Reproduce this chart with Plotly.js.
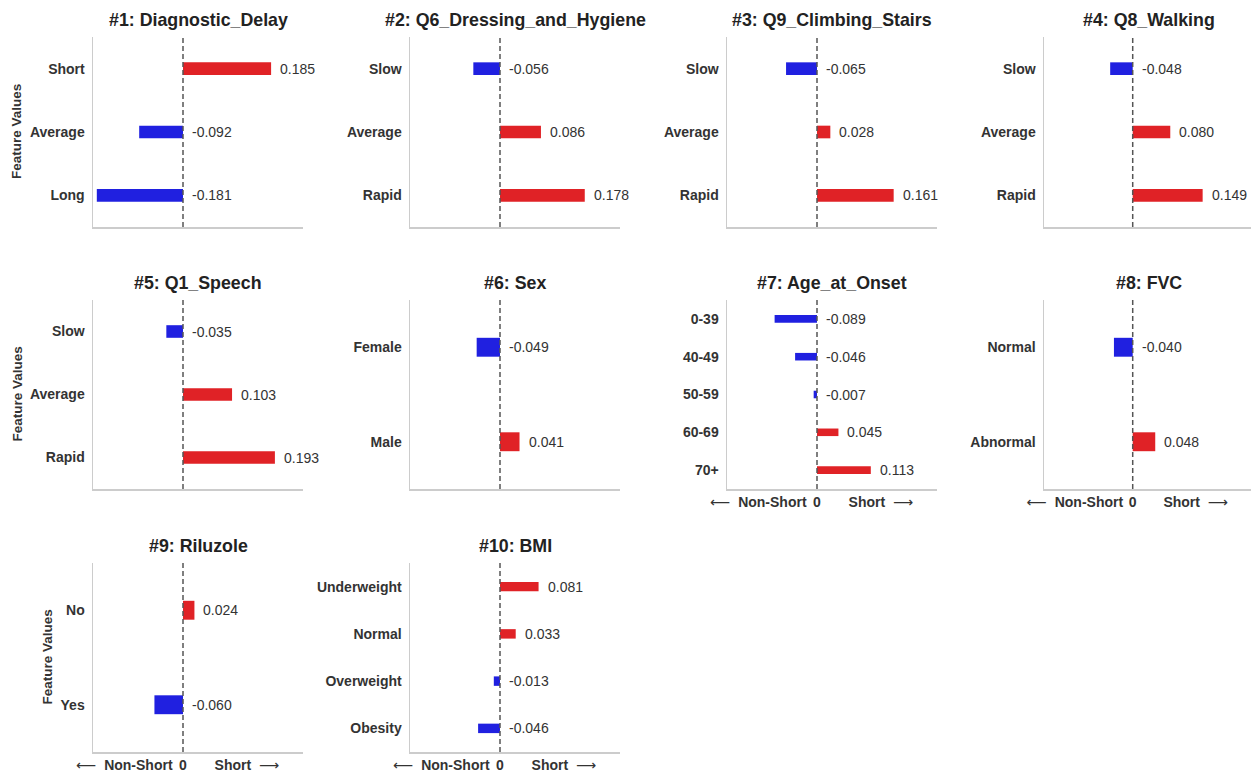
<!DOCTYPE html>
<html>
<head>
<meta charset="utf-8">
<script src="https://cdn.plot.ly/plotly-3.0.1.min.js"></script>
<style>html,body{margin:0;padding:0;background:#fff;}#chart{width:1252px;height:772px;}</style>
</head>
<body>
<div id="chart"></div>
<script>
// ---- data ----
const titles = [
  "#1: Diagnostic_Delay", "#2: Q6_Dressing_and_Hygiene", "#3: Q9_Climbing_Stairs", "#4: Q8_Walking",
  "#5: Q1_Speech", "#6: Sex", "#7: Age_at_Onset", "#8: FVC", "#9: Riluzole", "#10: BMI"
];
const cats1 = ["Short", "Average", "Long"];           const vals1 = [0.185, -0.092, -0.181];
const cats2 = ["Slow", "Average", "Rapid"];           const vals2 = [-0.056, 0.086, 0.178];
const cats3 = ["Slow", "Average", "Rapid"];           const vals3 = [-0.065, 0.028, 0.161];
const cats4 = ["Slow", "Average", "Rapid"];           const vals4 = [-0.048, 0.080, 0.149];
const cats5 = ["Slow", "Average", "Rapid"];           const vals5 = [-0.035, 0.103, 0.193];
const cats6 = ["Female", "Male"];                     const vals6 = [-0.049, 0.041];
const cats7 = ["0-39", "40-49", "50-59", "60-69", "70+"]; const vals7 = [-0.089, -0.046, -0.007, 0.045, 0.113];
const cats8 = ["Normal", "Abnormal"];                 const vals8 = [-0.040, 0.048];
const cats9 = ["No", "Yes"];                          const vals9 = [0.024, -0.060];
const cats10 = ["Underweight", "Normal", "Overweight", "Obesity"]; const vals10 = [0.081, 0.033, -0.013, -0.046];
const xTickText = ["\u27F5 Non-Short", "0", "Short \u27F6"];
const yLabel = "Feature Values";

const allCats = [cats1, cats2, cats3, cats4, cats5, cats6, cats7, cats8, cats9, cats10];
const allVals = [vals1, vals2, vals3, vals4, vals5, vals6, vals7, vals8, vals9, vals10];

// ---- layout geometry (pixels) ----
const W = 1252, H = 772;
const colLeft = [93, 410, 727, 1044];
const panelW = 210;
const rowTop = [37, 300, 563];
const rowBot = [227, 489, 752];
const xRange = [-0.189, 0.252];
const xTickVals = [-0.123, 0, 0.134];
const showXTicks = [false, false, false, false, false, false, true, true, true, true];
const showYLabel = {0: 17, 4: 17, 8: 47};

const RED = "#e02226", BLUE = "#2020e0";
const FONT = "Liberation Sans, Arial, sans-serif";
const ARROW = '<span style="font-family:DejaVu Sans;font-weight:normal;">';

// styled tick text (arrows thin, like the reference)
const styledTicks = xTickText.map(t => t
  .replace("\u27F5 ", ARROW + "\u27F5</span>  ")
  .replace(" \u27F6", "  " + ARROW + "\u27F6</span>"));

const data = [];
const layout = {
  width: W, height: H,
  margin: {l: 0, r: 0, t: 0, b: 0},
  paper_bgcolor: "#fff", plot_bgcolor: "#fff",
  showlegend: false,
  font: {family: FONT, color: "#333"},
  annotations: [], shapes: []
};

for (let i = 0; i < 10; i++) {
  const r = Math.floor(i / 4), c = i % 4;
  const ax = i === 0 ? "" : String(i + 1);
  const xa = "x" + ax, ya = "y" + ax;
  const cats = allCats[i], vals = allVals[i];
  const x0 = colLeft[c], x1 = Math.min(colLeft[c] + panelW, W - 1);
  data.push({
    type: "bar", orientation: "h",
    x: vals, y: cats,
    xaxis: xa, yaxis: ya,
    width: 0.2,
    marker: {color: vals.map(v => v >= 0 ? RED : BLUE), line: {width: 0}},
    hoverinfo: "x+y"
  });
  layout["xaxis" + ax] = {
    domain: [x0 / W, x1 / W],
    anchor: ya,
    range: xRange,
    showgrid: false, zeroline: false,
    showline: true, linecolor: "#cccccc", linewidth: 1.5, mirror: false,
    ticks: "",
    tickmode: "array", tickvals: xTickVals, ticktext: styledTicks,
    showticklabels: showXTicks[i],
    tickfont: {family: FONT, size: 14, color: "#333", weight: "bold"},
    fixedrange: true
  };
  layout["yaxis" + ax] = {
    domain: [1 - rowBot[r] / H, 1 - rowTop[r] / H],
    anchor: xa,
    type: "category",
    categoryorder: "array", categoryarray: cats,
    range: [cats.length - 0.5, -0.5],
    showgrid: false, zeroline: false,
    showline: true, linecolor: "#cccccc", linewidth: 1.5, mirror: false,
    ticks: "", ticklabelstandoff: 4,
    tickfont: {family: FONT, size: 14, color: "#333", weight: "bold"},
    fixedrange: true
  };
  // zero line
  layout.shapes.push({
    type: "line", xref: xa, yref: ya + " domain",
    x0: 0, x1: 0, y0: 0, y1: 1,
    line: {color: "#555", width: 1.5, dash: "5px,3px"}
  });
  // title
  layout.annotations.push({
    text: "<b>" + titles[i] + "</b>",
    xref: "paper", yref: "paper",
    x: (x0 + colLeft[c] + panelW) / 2 / W, y: 1 - (rowTop[r] - 17) / H,
    xanchor: "center", yanchor: "middle", showarrow: false,
    font: {family: FONT, size: 17.8, color: "#222"}
  });
  // value labels
  vals.forEach((v, k) => {
    layout.annotations.push({
      text: v.toFixed(3),
      xref: xa, yref: ya,
      x: Math.max(v, 0), y: cats[k],
      xanchor: "left", yanchor: "middle", xshift: 7,
      showarrow: false,
      font: {family: FONT, size: 14, color: "#333"}
    });
  });
  // y label
  if (showYLabel[i] !== undefined) {
    layout.annotations.push({
      text: "<b>" + yLabel + "</b>",
      xref: "paper", yref: "paper",
      x: showYLabel[i] / W, y: 1 - (rowTop[r] + rowBot[r]) / 2 / H,
      xanchor: "center", yanchor: "middle", textangle: -90, showarrow: false,
      font: {family: FONT, size: 13.5, color: "#333"}
    });
  }
}

Plotly.newPlot("chart", data, layout, {displayModeBar: false, staticPlot: true});
</script>
</body>
</html>
